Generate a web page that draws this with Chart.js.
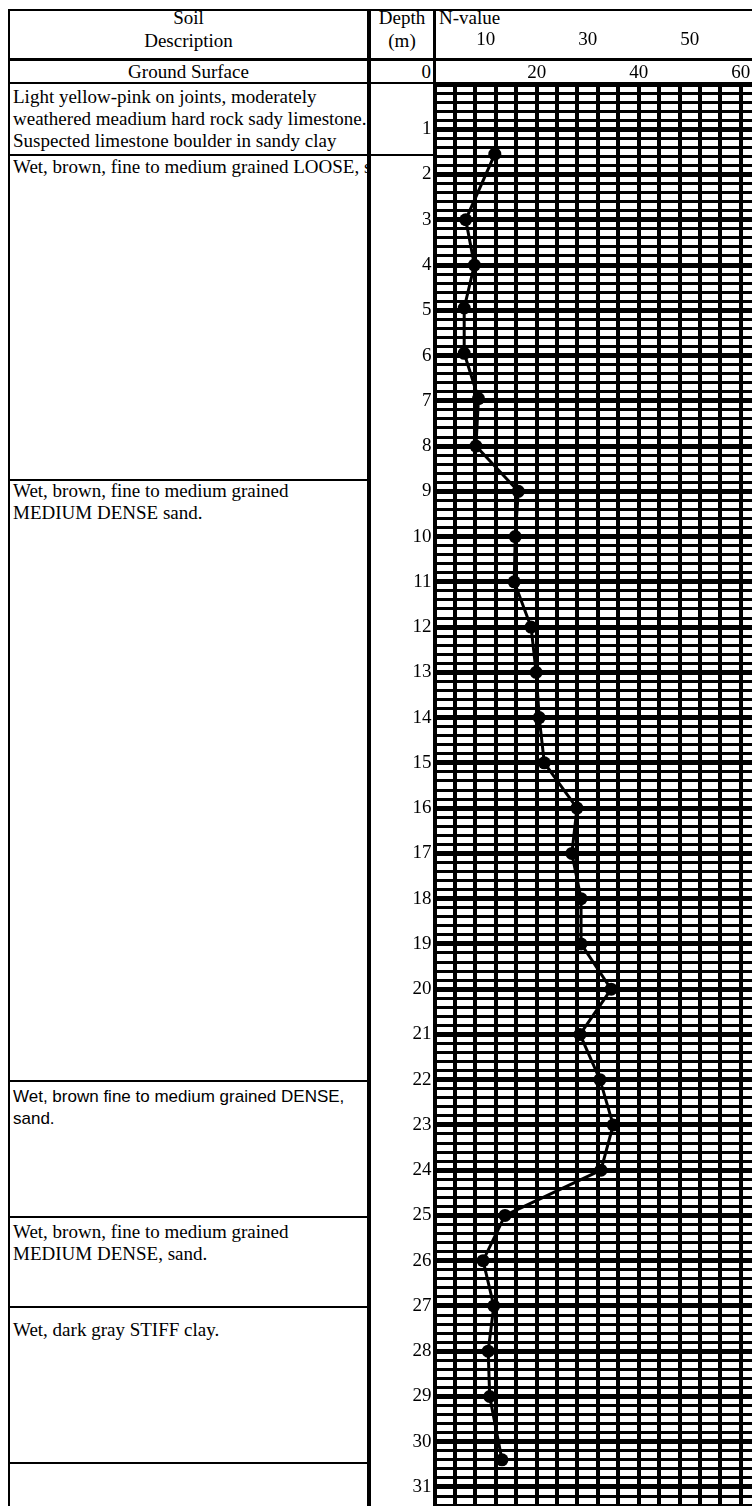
<!DOCTYPE html>
<html>
<head>
<meta charset="utf-8">
<script src="https://cdn.jsdelivr.net/npm/chart.js@4.4.0/dist/chart.umd.min.js"></script>
<style>
  body { margin: 0; background: #fff; width: 752px; height: 1506px; overflow: hidden; position: relative;
         font-family: "Liberation Serif", serif; font-size: 19px; color: #000; }
  .ln { position: absolute; background: #000; }
  .tx { position: absolute; white-space: nowrap; line-height: 22px; }
  .sans { font-family: "Liberation Sans", sans-serif; font-size: 17px; }
  #wrap { position: absolute; left: 371px; top: 20px; width: 381px; height: 1486px; }
  #wrap canvas { display: block; }
</style>
</head>
<body>
<!-- table frame -->
<div class="ln" style="left:8px;top:9px;width:744px;height:2px"></div>
<div class="ln" style="left:8px;top:9px;width:2px;height:1497px"></div>
<div class="ln" style="left:8px;top:58px;width:744px;height:3px"></div>
<div class="ln" style="left:8px;top:82px;width:744px;height:2px"></div>
<div class="ln" style="left:367px;top:9px;width:4px;height:1497px"></div>
<div class="ln" style="left:433px;top:9px;width:3px;height:1497px"></div>

<!-- layer boundaries -->
<div class="ln" style="left:10px;top:154px;width:425px;height:2px"></div>
<div class="ln" style="left:10px;top:479px;width:357px;height:2px"></div>
<div class="ln" style="left:10px;top:1080px;width:357px;height:2px"></div>
<div class="ln" style="left:10px;top:1216px;width:357px;height:2px"></div>
<div class="ln" style="left:10px;top:1306px;width:357px;height:2px"></div>
<div class="ln" style="left:10px;top:1462px;width:357px;height:2px"></div>

<!-- header -->
<div class="tx" style="left:10px;width:357px;top:6px;text-align:center;line-height:23px">Soil<br>Description</div>
<div class="tx" style="left:371px;width:62px;top:6px;text-align:center;line-height:23px">Depth<br>(m)</div>
<div class="tx" style="left:439px;top:6px;line-height:23px">N-value</div>
<div class="tx" style="left:10px;width:357px;top:61px;text-align:center">Ground Surface</div>
<div class="tx" style="left:371px;width:60px;top:61px;text-align:right">0</div>

<!-- soil descriptions -->
<div class="tx" style="left:13px;top:86px">Light yellow-pink on joints, moderately<br>weathered meadium hard rock sady limestone.<br>Suspected limestone boulder in sandy clay</div>
<div class="tx" style="left:13px;top:156px;width:354px;overflow:hidden">Wet, brown, fine to medium grained LOOSE, sand.</div>
<div class="tx" style="left:13px;top:480px">Wet, brown, fine to medium grained<br>MEDIUM DENSE sand.</div>
<div class="tx sans" style="left:13px;top:1086px">Wet, brown fine to medium grained DENSE,<br>sand.</div>
<div class="tx" style="left:13px;top:1221px">Wet, brown, fine to medium grained<br>MEDIUM DENSE, sand.</div>
<div class="tx" style="left:13px;top:1319px">Wet, dark gray STIFF clay.</div>

<div id="wrap"><canvas id="chart" width="381" height="1486"></canvas></div>

<script>
// SPT results
const depths = [1.55, 3, 4, 4.95, 5.95, 6.95, 8, 9, 10, 11, 12, 13, 14, 15, 16, 17, 18, 19, 20, 21, 22, 23, 24, 25, 26, 27, 28, 29, 30.4];
const nValues = [11.8, 6.1, 7.8, 5.8, 5.8, 8.6, 8.1, 16.4, 15.8, 15.6, 18.9, 19.9, 20.5, 21.5, 27.9, 26.9, 28.7, 28.7, 34.6, 28.5, 32.4, 35.0, 32.6, 13.8, 9.5, 11.6, 10.5, 10.8, 13.2];
const upperTicks = [10, 30, 50];
const lowerTicks = [20, 40, 60];
const nMax = 62.2;
const depthMax = 31.42;

Chart.defaults.font.family = '"Liberation Serif", serif';
Chart.defaults.font.size = 19;
Chart.defaults.color = "#000";

function isWhole(v) {
  return Math.abs(v - Math.round(v)) < 1e-6;
}

// no label padding, the grid has to fill the cell exactly
function noPad(s) {
  s.paddingTop = 0;
  s.paddingBottom = 0;
  s.paddingLeft = 0;
  s.paddingRight = 0;
}

const points = depths.map((d, i) => ({ x: nValues[i], y: d }));

new Chart(document.getElementById("chart"), {
  type: "scatter",
  data: {
    datasets: [
      {
        data: points,
        showLine: true,
        borderColor: "#000",
        borderWidth: 3,
        pointRadius: 6.5,
        pointBackgroundColor: "#000",
        pointBorderWidth: 0,
        tension: 0,
        clip: false,
      },
    ],
  },
  options: {
    responsive: false,
    animation: false,
    layout: { padding: 0, autoPadding: false },
    plugins: { legend: { display: false }, tooltip: { enabled: false } },
    scales: {
      x: {
        type: "linear",
        position: "bottom",
        min: 0,
        max: nMax,
        ticks: { display: false, stepSize: 4, includeBounds: false },
        grid: { color: "#000", lineWidth: 4, drawTicks: false },
        border: { display: false },
        afterFit: (s) => { s.height = 0; noPad(s); },
      },
      xLow: {
        type: "linear",
        position: "top",
        weight: 0,
        min: 0,
        max: nMax,
        ticks: {
          stepSize: 10, includeBounds: false, autoSkip: false, maxRotation: 0, padding: 0,
          callback: (v) => (lowerTicks.includes(v) ? String(v) : null),
        },
        grid: { display: false, drawTicks: false },
        border: { display: false },
        afterFit: (s) => { s.height = 33; noPad(s); },
      },
      xUp: {
        type: "linear",
        position: "top",
        weight: 1,
        min: 0,
        max: nMax,
        ticks: {
          stepSize: 10, includeBounds: false, autoSkip: false, maxRotation: 0, padding: 0,
          callback: (v) => (upperTicks.includes(v) ? String(v) : null),
        },
        grid: { display: false, drawTicks: false },
        border: { display: false },
        afterFit: (s) => { s.height = 31; noPad(s); },
      },
      y: {
        type: "linear",
        min: 0,
        max: depthMax,
        reverse: true,
        ticks: {
          stepSize: 0.2, includeBounds: false, autoSkip: false, padding: 0,
          callback: (v) => (isWhole(v) && v > 0.5 ? String(Math.round(v)) : ""),
        },
        grid: {
          color: "#000",
          lineWidth: (c) => (c.tick && isWhole(c.tick.value) ? 5 : 3),
          drawTicks: true,
          tickLength: 3,
          tickColor: "rgba(0,0,0,0)",
        },
        border: { display: false },
        afterFit: (s) => { s.width = 63.6; noPad(s); },
      },
    },
  },
});
</script>
</body>
</html>
